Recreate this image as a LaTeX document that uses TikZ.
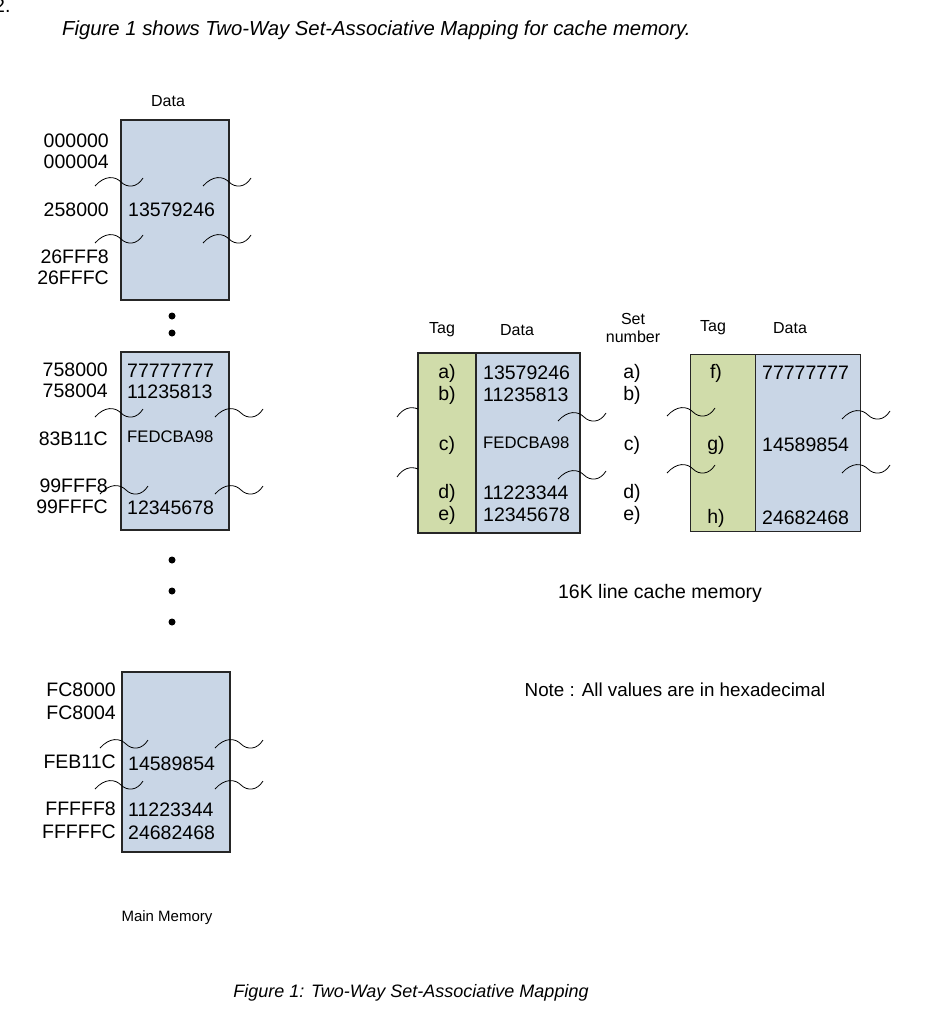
\documentclass[tikz,border=0pt]{standalone}
\usepackage{fontspec}
\setmainfont{Liberation Sans}
\begin{document}
\begin{tikzpicture}[x=1pt,y=-1pt,
  txt/.style={inner sep=0pt,font=\fontsize{19.5}{22}\selectfont},
  sm/.style={inner sep=0pt,font=\fontsize{16}{18}\selectfont},
  mid/.style={inner sep=0pt,font=\fontsize{16.7}{19}\selectfont},
  big/.style={inner sep=0pt,font=\fontsize{19.5}{22}\selectfont},
  lab/.style={txt,anchor=east},
  val/.style={txt,anchor=west},
  mem/.style={draw=black!85,line width=1.3pt,fill=memblue},
  tagb/.style={draw=black!85,line width=1.3pt,fill=taggreen},
  wave/.style={line width=0.8pt},
  dotn/.style={circle,fill=black,inner sep=0pt,minimum size=7pt}]
\definecolor{memblue}{RGB}{201,214,230}
\definecolor{taggreen}{RGB}{208,220,170}
\tikzset{sq/.pic={\draw[wave] (0,6) .. controls (10,-5) and (20,-4) .. (26,2) .. controls (32,8) and (42,8) .. (48,-2);},
 hsq/.pic={\draw[wave] (0,8) .. controls (6,-1) and (14,-3) .. (21,0);}}
\useasboundingbox (0,0) rectangle (934,1024);
\node[txt,anchor=west] (two) at (-6,6) {2.};
\node[txt,anchor=west,font=\fontsize{20.3}{22}\selectfont\itshape] (title) at (62,30) {Figure 1 shows Two-Way Set-Associative Mapping for cache memory.};
% main memory block 1
\node[sm] (d1) at (168,101) {Data};
\node[mem,minimum width=108pt,minimum height=180pt,inner sep=0pt] (m1) at (175,210) {};
\node[lab] (l1a) at (109,141) {000000};
\node[lab] (l1b) at (109,162) {000004};
\node[lab] (l1c) at (109,210) {258000};
\node[lab] (l1d) at (109,257) {26FFF8};
\node[lab] (l1e) at (109,278) {26FFFC};
\node[val] (v1) at (128,210) {13579246};
\path (95,180) pic{sq} (95,237) pic{sq} (203,180) pic{sq} (203,237) pic{sq};
\node[dotn] (p1) at (172,316) {};
\node[dotn] (p2) at (172,333) {};
% block 2
\node[mem,minimum width=108pt,minimum height=178pt,inner sep=0pt] (m2) at (175,441) {};
\node[lab] (l2a) at (108,370) {758000};
\node[lab] (l2b) at (108,391) {758004};
\node[lab] (l2c) at (108,439) {83B11C};
\node[lab] (l2d) at (108,486) {99FFF8};
\node[lab] (l2e) at (108,507) {99FFFC};
\node[val] (v2a) at (127,371) {77777777};
\node[val] (v2b) at (127,392) {11235813};
\node[mid,anchor=west] (v2c) at (127,437) {FEDCBA98};
\node[val] (v2e) at (127,508) {12345678};
\path (95,411) pic{sq} (100,488) pic{sq} (215,411) pic{sq} (215,488) pic{sq};
\node[dotn] (p3) at (172,560) {};
\node[dotn] (p4) at (172,591) {};
\node[dotn] (p5) at (172,622) {};
% block 3
\node[mem,minimum width=108pt,minimum height=180pt,inner sep=0pt] (m3) at (176,762) {};
\node[lab] (l3a) at (116,690) {FC8000};
\node[lab] (l3b) at (116,713) {FC8004};
\node[lab] (l3c) at (116,762) {FEB11C};
\node[lab] (l3d) at (116,809) {FFFFF8};
\node[lab] (l3e) at (116,832) {FFFFFC};
\node[val] (v3c) at (128,764) {14589854};
\node[val] (v3d) at (128,810) {11223344};
\node[val] (v3e) at (128,833) {24682468};
\path (100,742) pic{sq} (95,783) pic{sq} (215,742) pic{sq} (215,783) pic{sq};
\node[sm,font=\fontsize{15}{17}\selectfont] (mm) at (167,918) {Main Memory};
% cache way 1
\node[sm] (tg1) at (442,330) {Tag};
\node[sm] (dh1) at (517,330) {Data};
\node[sm,align=center] (setn) at (633,328) {Set\\number};
\node[tagb,minimum width=58pt,minimum height=180pt,inner sep=0pt] (t1) at (447,443) {};
\node[mem,minimum width=104pt,minimum height=180pt,inner sep=0pt] (c1) at (528,443) {};
\foreach \n/\y in {a/373,b/395,c/445,d/493,e/515}{
  \node[txt] (t1\n) at (447,\y) {\n)};
  \node[txt] (s\n) at (632,\y) {\n)};}
\node[val] (c1a) at (483,373) {13579246};
\node[val] (c1b) at (483,395) {11235813};
\node[mid,anchor=west] (c1c) at (483,443) {FEDCBA98};
\node[val] (c1d) at (483,493) {11223344};
\node[val] (c1e) at (483,515) {12345678};
\path (397,409) pic{hsq} (397,469) pic{hsq} (558,415) pic{sq} (558,473) pic{sq};
% cache way 2
\node[sm] (tg2) at (713,328) {Tag};
\node[sm] (dh2) at (790,328) {Data};
\node[tagb,minimum width=65pt,minimum height=177pt,inner sep=0pt] (t2) at (723,443) {};
\node[mem,minimum width=105pt,minimum height=177pt,inner sep=0pt] (c2) at (808,443) {};
\node[txt] (t2f) at (716,373) {f)};
\node[txt] (t2g) at (716,445) {g)};
\node[txt] (t2h) at (716,518) {h)};
\node[val] (c2f) at (762,373) {77777777};
\node[val] (c2g) at (762,445) {14589854};
\node[val] (c2h) at (762,518) {24682468};
\path (667,410) pic{sq} (667,467) pic{sq} (842,413) pic{sq} (842,467) pic{sq};
\node[big] (ck) at (660,593) {16K line cache memory};
\node[big,font=\fontsize{18.8}{21}\selectfont] (note) at (675,690) {Note : All values are in hexadecimal};
\node[sm,font=\fontsize{18}{20}\selectfont\itshape] (cap) at (411,993) {Figure 1: Two-Way Set-Associative Mapping};
\end{tikzpicture}
\end{document}
